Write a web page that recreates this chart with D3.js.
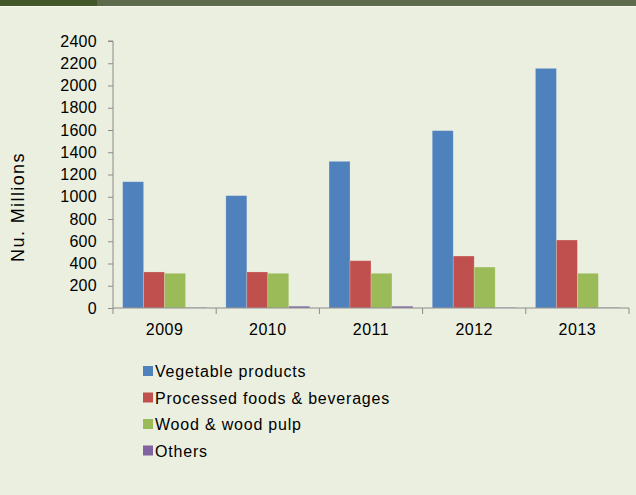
<!DOCTYPE html>
<html>
<head>
<meta charset="utf-8">
<script src="https://cdn.jsdelivr.net/npm/d3@7/dist/d3.min.js"></script>
<style>
  html, body { margin: 0; padding: 0; background: #ebefdf; }
  svg { display: block; font-family: "Liberation Sans", Arial, sans-serif; }
</style>
</head>
<body>
<svg id="chart" width="636" height="495"></svg>
<script>
// Export values by product group, Nu. millions
const years = ["2009", "2010", "2011", "2012", "2013"];
const seriesNames = ["Vegetable products", "Processed foods & beverages", "Wood & wood pulp", "Others"];
const vegetable = [1135, 1010, 1318, 1594, 2154];
const processed = [324, 324, 425, 467, 611];
const wood = [312, 312, 312, 368, 312];
const others = [4, 16, 16, 4, 4];
const yTicks = [0, 200, 400, 600, 800, 1000, 1200, 1400, 1600, 1800, 2000, 2200, 2400];
const colors = ["#4f81bd", "#c0504d", "#9bbb59", "#8064a2"];

const seriesValues = [vegetable, processed, wood, others];

const svg = d3.select("#chart");

// Header strip
svg.append("rect").attr("x", 0).attr("y", 0).attr("width", 636).attr("height", 6).attr("fill", "#5e6a4c");
svg.append("rect").attr("x", 0).attr("y", 0).attr("width", 97).attr("height", 6).attr("fill", "#43582a");
svg.append("rect").attr("x", 0).attr("y", 6).attr("width", 636).attr("height", 1).attr("fill", "#f7f9f1");

const plot = { left: 113, right: 629, top: 41, bottom: 308 };

const x0 = d3.scaleBand().domain(years).range([plot.left, plot.right]).paddingInner(0).paddingOuter(0);
const x1 = d3.scaleBand().domain(seriesNames).range([0, x0.bandwidth()]).paddingInner(0).paddingOuter(0.46);
const y = d3.scaleLinear().domain([0, 2400]).range([plot.bottom, plot.top]);

const axisColor = "#8c8c8c";

// Bars
const groups = svg.append("g").selectAll("g")
  .data(years)
  .join("g")
  .attr("transform", d => `translate(${x0(d)},0)`);

groups.selectAll("rect")
  .data((yr, i) => seriesNames.map((s, k) => ({ s, k, v: seriesValues[k][i] })))
  .join("rect")
  .attr("x", d => x1(d.s))
  .attr("width", x1.bandwidth())
  .attr("y", d => y(d.v))
  .attr("height", d => y(0) - y(d.v))
  .attr("fill", d => colors[d.k])
  .attr("stroke", "rgba(255,255,255,0.25)")
  .attr("stroke-width", 0.8);

// Y axis
const yAxis = d3.axisLeft(y).tickValues(yTicks).tickSize(5).tickPadding(11).tickFormat(d3.format("d"));
const gy = svg.append("g").attr("transform", `translate(${plot.left},0)`).call(yAxis);
gy.select(".domain").attr("stroke", axisColor).attr("d", `M-5,${plot.top}H0V${plot.bottom}`);
gy.selectAll(".tick line").attr("stroke", axisColor);
gy.selectAll(".tick text").attr("fill", "#000").style("font-size", "16px").style("letter-spacing", "0.3px");

// X axis
const gx = svg.append("g").attr("transform", `translate(0,${plot.bottom})`);
gx.append("line").attr("x1", plot.left).attr("x2", plot.right).attr("stroke", axisColor);
const bounds = years.map(d => x0(d)).concat([x0(years[years.length - 1]) + x0.bandwidth()]);
gx.selectAll("line.tk").data(bounds).join("line").attr("class", "tk")
  .attr("x1", d => d).attr("x2", d => d).attr("y1", 0).attr("y2", 6).attr("stroke", axisColor);
gx.selectAll("text").data(years).join("text")
  .attr("x", d => x0(d) + x0.bandwidth() / 2)
  .attr("y", 27)
  .attr("text-anchor", "middle")
  .style("font-size", "16px")
  .style("letter-spacing", "0.5px")
  .text(d => d);

// Y axis title
svg.append("text")
  .attr("transform", "translate(24,207) rotate(-90)")
  .attr("text-anchor", "middle")
  .style("font-size", "18px")
  .style("letter-spacing", "1.4px")
  .text("Nu. Millions");

// Legend
const legend = svg.append("g").attr("transform", "translate(143,371)");
const items = legend.selectAll("g").data(seriesNames).join("g")
  .attr("transform", (d, i) => `translate(0,${i * 26.5})`);
items.append("rect").attr("x", 0).attr("y", -5).attr("width", 10).attr("height", 10)
  .attr("fill", (d, i) => colors[i]);
items.append("text").attr("x", 12).attr("y", 6).style("font-size", "16px")
  .style("letter-spacing", "0.8px").text(d => d);
</script>
</body>
</html>
